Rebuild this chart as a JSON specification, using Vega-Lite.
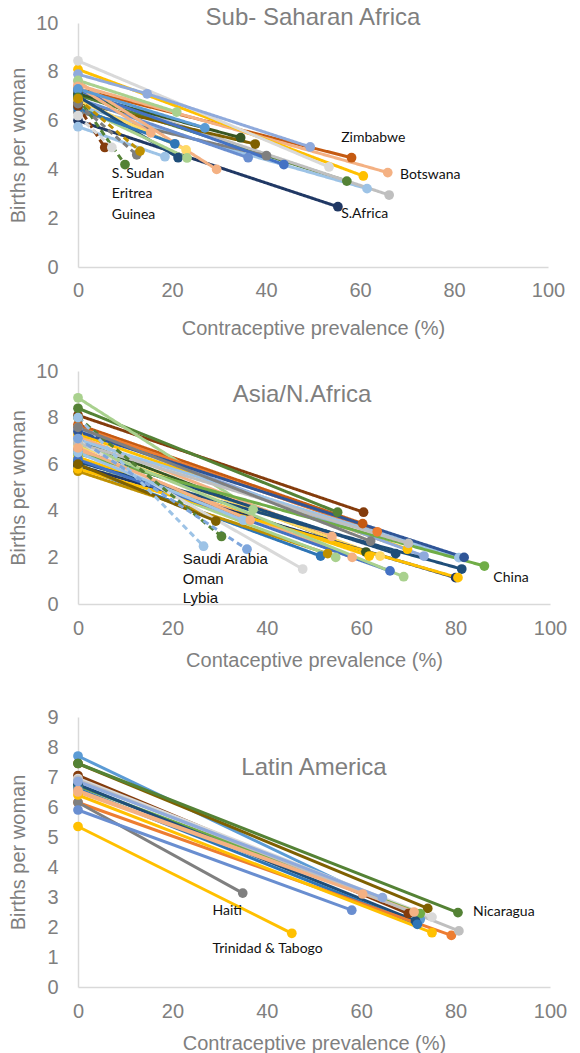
{
  "$schema": "https://vega.github.io/schema/vega-lite/v6.json",
  "background": "white",
  "padding": {"left": 8, "top": 6, "right": 5, "bottom": 0},
  "config": {
    "view": {"stroke": null},
    "axis": {"grid": false, "ticks": false, "labelFlush": false, "domainColor": "#D9D9D9", "domainWidth": 1.5, "labelColor": "#7F7F7F", "labelFont": "Liberation Sans", "labelFontSize": 20, "titleColor": "#7F7F7F", "titleFont": "Liberation Sans", "titleFontSize": 20, "titleFontWeight": "normal"},
    "title": {"color": "#7F7F7F", "font": "Liberation Sans", "fontSize": 24, "fontWeight": "normal", "frame": "group"}
  },
  "datasets": {
    "ssa": [
      {"id":"s01","g":"typical","x":0,"y":7.3},{"id":"s01","g":"typical","x":58.2,"y":4.48},
      {"id":"s02","g":"typical","x":0,"y":7.45},{"id":"s02","g":"typical","x":65.9,"y":3.87},
      {"id":"s03","g":"typical","x":0,"y":8.1},{"id":"s03","g":"typical","x":60.7,"y":3.73},
      {"id":"s04","g":"typical","x":0,"y":8.45},{"id":"s04","g":"typical","x":53.4,"y":4.1},
      {"id":"s05","g":"typical","x":0,"y":7.9},{"id":"s05","g":"typical","x":14.7,"y":7.1},{"id":"s05","g":"typical","x":49.4,"y":4.92},
      {"id":"s06","g":"typical","x":0,"y":7.05},{"id":"s06","g":"typical","x":57.2,"y":3.52},
      {"id":"s07","g":"typical","x":0,"y":6.6},{"id":"s07","g":"typical","x":61.5,"y":3.21},
      {"id":"s08","g":"typical","x":0,"y":7.2},{"id":"s08","g":"typical","x":66.2,"y":2.95},
      {"id":"s09","g":"typical","x":0,"y":6.0},{"id":"s09","g":"typical","x":55.3,"y":2.47},
      {"id":"s10","g":"typical","x":0,"y":7.1},{"id":"s10","g":"typical","x":34.6,"y":5.3},
      {"id":"s11","g":"typical","x":0,"y":6.75},{"id":"s11","g":"typical","x":37.7,"y":5.04},
      {"id":"s12","g":"typical","x":0,"y":6.35},{"id":"s12","g":"typical","x":40.1,"y":4.56},
      {"id":"s13","g":"typical","x":0,"y":7.25},{"id":"s13","g":"typical","x":43.8,"y":4.2},
      {"id":"s14","g":"typical","x":0,"y":6.9},{"id":"s14","g":"typical","x":36.2,"y":4.48},
      {"id":"s15","g":"typical","x":0,"y":7.6},{"id":"s15","g":"typical","x":29.5,"y":4.0},
      {"id":"s16","g":"typical","x":0,"y":7.65},{"id":"s16","g":"typical","x":21,"y":6.35},
      {"id":"s17","g":"typical","x":0,"y":7.4},{"id":"s17","g":"typical","x":15.5,"y":5.5},
      {"id":"s18","g":"typical","x":0,"y":6.85},{"id":"s18","g":"typical","x":23,"y":4.8},
      {"id":"s19","g":"typical","x":0,"y":7.0},{"id":"s19","g":"typical","x":21.3,"y":4.48},
      {"id":"s20","g":"typical","x":0,"y":6.6},{"id":"s20","g":"typical","x":23.2,"y":4.47},
      {"id":"s21","g":"typical","x":0,"y":6.5},{"id":"s21","g":"typical","x":20.6,"y":5.05},
      {"id":"s22","g":"typical","x":0,"y":7.3},{"id":"s22","g":"typical","x":27,"y":5.7},
      {"id":"s23","g":"typical","x":0,"y":5.75},{"id":"s23","g":"typical","x":18.5,"y":4.52},
      {"id":"s24","g":"outlier","x":0,"y":6.95},{"id":"s24","g":"outlier","x":10,"y":4.2},
      {"id":"s25","g":"outlier","x":0,"y":6.6},{"id":"s25","g":"outlier","x":5.7,"y":4.9},
      {"id":"s26","g":"outlier","x":0,"y":6.2},{"id":"s26","g":"outlier","x":7.2,"y":4.9},
      {"id":"s27","g":"outlier","x":0,"y":6.7},{"id":"s27","g":"outlier","x":12.5,"y":4.6},
      {"id":"s28","g":"outlier","x":0,"y":6.9},{"id":"s28","g":"outlier","x":13.2,"y":4.75}
    ],
    "ssaL": [
      {"x":56,"y":5.3,"label":"Zimbabwe"},
      {"x":68.5,"y":3.77,"label":"Botswana"},
      {"x":56,"y":2.17,"label":"S.Africa"},
      {"x":7.2,"y":3.8,"label":"S. Sudan"},
      {"x":7.2,"y":3.0,"label":"Eritrea"},
      {"x":7.2,"y":2.13,"label":"Guinea"}
    ],
    "asia": [
      {"id":"a01","g":"typical","x":0,"y":8.1},{"id":"a01","g":"typical","x":60.5,"y":3.94},
      {"id":"a02","g":"typical","x":0,"y":7.7},{"id":"a02","g":"typical","x":60.3,"y":3.45},
      {"id":"a03","g":"typical","x":0,"y":8.4},{"id":"a03","g":"typical","x":55,"y":3.94},
      {"id":"a04","g":"typical","x":0,"y":8.85},{"id":"a04","g":"typical","x":37.1,"y":4.06},
      {"id":"a05","g":"typical","x":0,"y":7.6},{"id":"a05","g":"typical","x":63.4,"y":3.1},
      {"id":"a06","g":"typical","x":0,"y":7.2},{"id":"a06","g":"typical","x":53.8,"y":2.9},
      {"id":"a07","g":"typical","x":0,"y":7.0},{"id":"a07","g":"typical","x":61,"y":2.23},
      {"id":"a08","g":"typical","x":0,"y":6.3},{"id":"a08","g":"typical","x":61.7,"y":2.06},
      {"id":"a09","g":"typical","x":0,"y":6.8},{"id":"a09","g":"typical","x":64,"y":2.06},
      {"id":"a10","g":"typical","x":0,"y":6.6},{"id":"a10","g":"typical","x":67.3,"y":2.16},
      {"id":"a11","g":"typical","x":0,"y":5.9},{"id":"a11","g":"typical","x":51.4,"y":2.06},
      {"id":"a12","g":"typical","x":0,"y":5.7},{"id":"a12","g":"typical","x":52.9,"y":2.16},
      {"id":"a13","g":"typical","x":0,"y":6.2},{"id":"a13","g":"typical","x":54.6,"y":2.0},
      {"id":"a14","g":"typical","x":0,"y":6.6},{"id":"a14","g":"typical","x":58.1,"y":2.0},
      {"id":"a15","g":"typical","x":0,"y":7.3},{"id":"a15","g":"typical","x":69.8,"y":2.35},
      {"id":"a16","g":"typical","x":0,"y":7.5},{"id":"a16","g":"typical","x":73.3,"y":2.06},
      {"id":"a17","g":"typical","x":0,"y":7.05},{"id":"a17","g":"typical","x":80.7,"y":1.99},
      {"id":"a18","g":"typical","x":0,"y":7.4},{"id":"a18","g":"typical","x":81.8,"y":2.0},
      {"id":"a19","g":"typical","x":0,"y":6.1},{"id":"a19","g":"typical","x":81.3,"y":1.5},
      {"id":"a20","g":"typical","x":0,"y":5.95},{"id":"a20","g":"typical","x":80,"y":1.13},
      {"id":"a21","g":"typical","x":0,"y":5.8},{"id":"a21","g":"typical","x":80.5,"y":1.13},
      {"id":"a22","g":"typical","x":0,"y":6.45},{"id":"a22","g":"typical","x":86.1,"y":1.63},
      {"id":"a23","g":"typical","x":0,"y":6.2},{"id":"a23","g":"typical","x":66.1,"y":1.42},
      {"id":"a24","g":"typical","x":0,"y":6.9},{"id":"a24","g":"typical","x":69,"y":1.17},
      {"id":"a25","g":"typical","x":0,"y":7.0},{"id":"a25","g":"typical","x":47.6,"y":1.5},
      {"id":"a26","g":"typical","x":0,"y":6.9},{"id":"a26","g":"typical","x":70,"y":2.6},
      {"id":"a27","g":"typical","x":0,"y":6.0},{"id":"a27","g":"typical","x":29.2,"y":3.56},
      {"id":"a28","g":"typical","x":0,"y":6.5},{"id":"a28","g":"typical","x":35,"y":3.6},
      {"id":"a29","g":"typical","x":0,"y":6.7},{"id":"a29","g":"typical","x":36.5,"y":3.6},
      {"id":"a30","g":"outlier","x":0,"y":8.0},{"id":"a30","g":"outlier","x":30.4,"y":2.9},
      {"id":"a31","g":"outlier","x":0,"y":8.0},{"id":"a31","g":"outlier","x":26.6,"y":2.48},
      {"id":"a32","g":"outlier","x":0,"y":7.1},{"id":"a32","g":"outlier","x":35.8,"y":2.35},
      {"id":"a33","g":"typical","x":0,"y":7.58},{"id":"a33","g":"typical","x":62,"y":2.7}
    ],
    "asiaL": [
      {"x":88,"y":1.12,"label":"China"}
    ],
    "asiaL2": [
      {"x":22.2,"y":1.93,"label":"Saudi Arabia"},
      {"x":22.2,"y":1.07,"label":"Oman"},
      {"x":22.2,"y":0.26,"label":"Lybia"}
    ],
    "lat": [
      {"id":"l01","g":"typical","x":0,"y":7.7},{"id":"l01","g":"typical","x":72.5,"y":2.25},
      {"id":"l02","g":"typical","x":0,"y":7.45},{"id":"l02","g":"typical","x":74.1,"y":2.62},
      {"id":"l03","g":"typical","x":0,"y":7.45},{"id":"l03","g":"typical","x":80.5,"y":2.48},
      {"id":"l04","g":"typical","x":0,"y":7.05},{"id":"l04","g":"typical","x":70,"y":2.45},
      {"id":"l05","g":"typical","x":0,"y":6.95},{"id":"l05","g":"typical","x":75,"y":2.33},
      {"id":"l06","g":"typical","x":0,"y":6.7},{"id":"l06","g":"typical","x":72.5,"y":2.45},
      {"id":"l07","g":"typical","x":0,"y":6.75},{"id":"l07","g":"typical","x":71.5,"y":2.2},
      {"id":"l08","g":"typical","x":0,"y":6.6},{"id":"l08","g":"typical","x":71.9,"y":2.09},
      {"id":"l09","g":"typical","x":0,"y":6.55},{"id":"l09","g":"typical","x":71.2,"y":2.5},
      {"id":"l10","g":"typical","x":0,"y":6.15},{"id":"l10","g":"typical","x":79.1,"y":1.72},
      {"id":"l11","g":"typical","x":0,"y":6.15},{"id":"l11","g":"typical","x":34.9,"y":3.13},
      {"id":"l12","g":"typical","x":0,"y":5.9},{"id":"l12","g":"typical","x":58,"y":2.56},
      {"id":"l13","g":"typical","x":0,"y":5.35},{"id":"l13","g":"typical","x":45.3,"y":1.79},
      {"id":"l14","g":"typical","x":0,"y":6.4},{"id":"l14","g":"typical","x":75,"y":1.81},
      {"id":"l15","g":"typical","x":0,"y":6.9},{"id":"l15","g":"typical","x":80.7,"y":1.87},
      {"id":"l16","g":"typical","x":0,"y":6.85},{"id":"l16","g":"typical","x":64.5,"y":2.98},
      {"id":"l17","g":"typical","x":0,"y":6.5},{"id":"l17","g":"typical","x":60.3,"y":3.1}
    ],
    "latL": [
      {"x":28.5,"y":2.53,"label":"Haiti"},
      {"x":28.5,"y":1.27,"label":"Trinidad & Tabogo"},
      {"x":83.7,"y":2.5,"label":"Nicaragua"}
    ]
  },
  "spacing": 23,
  "resolve": {"scale": {"color": "independent", "strokeDash": "independent"}},
  "vconcat": [
    {
      "width": 470, "height": 244,
      "title": {"text": "Sub- Saharan Africa", "offset": -17},
      "encoding": {
        "x": {"field": "x", "type": "quantitative", "scale": {"domain": [0, 100]}, "axis": {"values": [0,20,40,60,80,100], "title": "Contraceptive prevalence (%)", "labelPadding": 13, "titlePadding": 18}},
        "y": {"field": "y", "type": "quantitative", "scale": {"domain": [0, 10]}, "axis": {"values": [0,2,4,6,8,10], "title": "Births per woman", "labelPadding": 20, "titlePadding": 6, "minExtent": 44, "maxExtent": 44}}
      },
      "layer": [
        {"data": {"name": "ssa"}, "mark": {"type": "line", "strokeWidth": 3},
         "encoding": {
           "detail": {"field": "id"},
           "color": {"field": "id", "type": "nominal", "legend": null, "scale": {"domain": ["s01","s02","s03","s04","s05","s06","s07","s08","s09","s10","s11","s12","s13","s14","s15","s16","s17","s18","s19","s20","s21","s22","s23","s24","s25","s26","s27","s28"], "range": ["#C55A11","#F4B183","#FFC000","#D9D9D9","#8FAADC","#548235","#9DC3E6","#BFBFBF","#203864","#375623","#7F6000","#7F7F7F","#4472C4","#698ED0","#F4B183","#A9D18E","#F4B183","#FFD966","#1F4E79","#A9D18E","#2E75B6","#5B9BD5","#9DC3E6","#548235","#843C0C","#D9D9D9","#7F7F7F","#BF9000"]}},
           "strokeDash": {"field": "g", "type": "nominal", "legend": null, "scale": {"domain": ["typical","outlier"], "range": [[1,0],[6,4]]}}
         }},
        {"data": {"name": "ssa"}, "mark": {"type": "point", "filled": true, "size": 95, "opacity": 1},
         "encoding": {
           "color": {"field": "id", "type": "nominal", "legend": null, "scale": {"domain": ["s01","s02","s03","s04","s05","s06","s07","s08","s09","s10","s11","s12","s13","s14","s15","s16","s17","s18","s19","s20","s21","s22","s23","s24","s25","s26","s27","s28"], "range": ["#C55A11","#F4B183","#FFC000","#D9D9D9","#8FAADC","#548235","#9DC3E6","#BFBFBF","#203864","#375623","#7F6000","#7F7F7F","#4472C4","#698ED0","#F4B183","#A9D18E","#F4B183","#FFD966","#1F4E79","#A9D18E","#2E75B6","#5B9BD5","#9DC3E6","#548235","#843C0C","#D9D9D9","#7F7F7F","#BF9000"]}}
         }},
        {"data": {"name": "ssaL"}, "mark": {"type": "text", "align": "left", "baseline": "middle", "font": "Lato", "fontSize": 14, "color": "#111111"},
         "encoding": {"text": {"field": "label"}}}
      ]
    },
    {
      "spacing": 37,
      "resolve": {"scale": {"color": "independent", "strokeDash": "independent"}},
      "vconcat": [
        {
          "width": 472, "height": 233,
          "title": {"text": "Asia/N.Africa", "offset": -46, "dx": -12},
          "encoding": {
            "x": {"field": "x", "type": "quantitative", "scale": {"domain": [0, 100]}, "axis": {"values": [0,20,40,60,80,100], "title": "Contaceptive prevalence (%)", "labelPadding": 14, "titlePadding": 12}},
            "y": {"field": "y", "type": "quantitative", "scale": {"domain": [0, 10]}, "axis": {"values": [0,2,4,6,8,10], "title": "Births per woman", "labelPadding": 20, "titlePadding": 6, "minExtent": 44, "maxExtent": 44}}
          },
          "layer": [
            {"data": {"name": "asia"}, "mark": {"type": "line", "strokeWidth": 3},
             "encoding": {
               "detail": {"field": "id"},
               "color": {"field": "id", "type": "nominal", "legend": null, "scale": {"domain": ["a01","a02","a03","a04","a05","a06","a07","a08","a09","a10","a11","a12","a13","a14","a15","a16","a17","a18","a19","a20","a21","a22","a23","a24","a25","a26","a27","a28","a29","a30","a31","a32","a33"], "range": ["#843C0C","#C55A11","#548235","#A9D18E","#ED7D31","#F4B183","#375623","#FFC000","#FFD966","#1F4E79","#2E75B6","#BF9000","#A9D18E","#F4B183","#FFC000","#8FAADC","#9DC3E6","#2F5597","#1F4E79","#203864","#FFC000","#70AD47","#4472C4","#A9D18E","#D9D9D9","#BFBFBF","#7F6000","#9DC3E6","#F4B183","#548235","#9DC3E6","#7EA6DC","#7F7F7F"]}},
               "strokeDash": {"field": "g", "type": "nominal", "legend": null, "scale": {"domain": ["typical","outlier"], "range": [[1,0],[6,4]]}}
             }},
            {"data": {"name": "asia"}, "mark": {"type": "point", "filled": true, "size": 95, "opacity": 1},
             "encoding": {
               "color": {"field": "id", "type": "nominal", "legend": null, "scale": {"domain": ["a01","a02","a03","a04","a05","a06","a07","a08","a09","a10","a11","a12","a13","a14","a15","a16","a17","a18","a19","a20","a21","a22","a23","a24","a25","a26","a27","a28","a29","a30","a31","a32","a33"], "range": ["#843C0C","#C55A11","#548235","#A9D18E","#ED7D31","#F4B183","#375623","#FFC000","#FFD966","#1F4E79","#2E75B6","#BF9000","#A9D18E","#F4B183","#FFC000","#8FAADC","#9DC3E6","#2F5597","#1F4E79","#203864","#FFC000","#70AD47","#4472C4","#A9D18E","#D9D9D9","#BFBFBF","#7F6000","#9DC3E6","#F4B183","#548235","#9DC3E6","#7EA6DC","#7F7F7F"]}}
             }},
            {"data": {"name": "asiaL"}, "mark": {"type": "text", "align": "left", "baseline": "middle", "font": "Lato", "fontSize": 14, "color": "#111111"},
             "encoding": {"text": {"field": "label"}}},
            {"data": {"name": "asiaL2"}, "mark": {"type": "text", "align": "left", "baseline": "middle", "font": "Liberation Sans", "fontSize": 15, "color": "#111111"},
             "encoding": {"text": {"field": "label"}}}
          ]
        },
        {
          "width": 472, "height": 270,
          "title": {"text": "Latin America", "offset": -73},
          "encoding": {
            "x": {"field": "x", "type": "quantitative", "scale": {"domain": [0, 100]}, "axis": {"values": [0,20,40,60,80,100], "title": "Contraceptive prevalence (%)", "labelPadding": 14, "titlePadding": 12}},
            "y": {"field": "y", "type": "quantitative", "scale": {"domain": [0, 9]}, "axis": {"values": [0,1,2,3,4,5,6,7,8,9], "title": "Births per woman", "labelPadding": 20, "titlePadding": 6, "minExtent": 44, "maxExtent": 44}}
          },
          "layer": [
            {"data": {"name": "lat"}, "mark": {"type": "line", "strokeWidth": 3},
             "encoding": {
               "detail": {"field": "id"},
               "color": {"field": "id", "type": "nominal", "legend": null, "scale": {"domain": ["l01","l02","l03","l04","l05","l06","l07","l08","l09","l10","l11","l12","l13","l14","l15","l16","l17"], "range": ["#5B9BD5","#7F6000","#548235","#843C0C","#D9D9D9","#70AD47","#1F4E79","#2E75B6","#F4B183","#ED7D31","#7F7F7F","#698ED0","#FFC000","#FFC000","#BFBFBF","#8FAADC","#F4B183"]}}
             }},
            {"data": {"name": "lat"}, "mark": {"type": "point", "filled": true, "size": 95, "opacity": 1},
             "encoding": {
               "color": {"field": "id", "type": "nominal", "legend": null, "scale": {"domain": ["l01","l02","l03","l04","l05","l06","l07","l08","l09","l10","l11","l12","l13","l14","l15","l16","l17"], "range": ["#5B9BD5","#7F6000","#548235","#843C0C","#D9D9D9","#70AD47","#1F4E79","#2E75B6","#F4B183","#ED7D31","#7F7F7F","#698ED0","#FFC000","#FFC000","#BFBFBF","#8FAADC","#F4B183"]}}
             }},
            {"data": {"name": "latL"}, "mark": {"type": "text", "align": "left", "baseline": "middle", "font": "Lato", "fontSize": 14, "color": "#111111"},
             "encoding": {"text": {"field": "label"}}}
          ]
        }
      ]
    }
  ]
}
